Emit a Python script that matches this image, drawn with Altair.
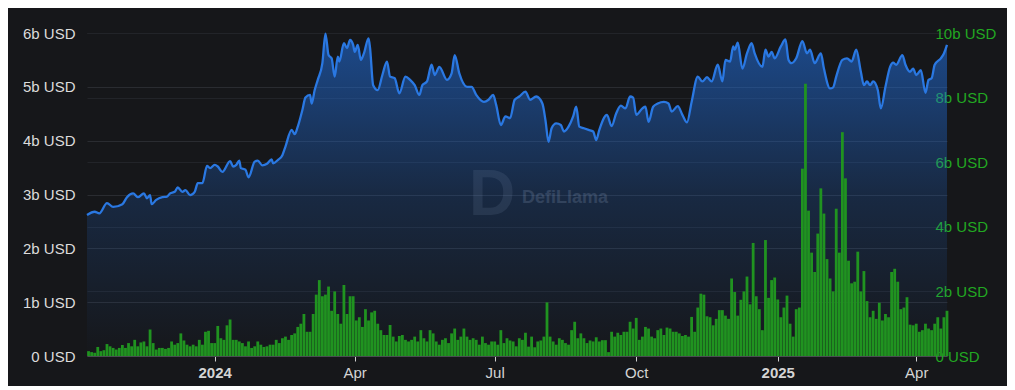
import altair as alt
import pandas as pd

START = "2023-10-10"

# TVL (left axis, billions USD): sample day offsets from START and values
tvl_day = [0, 5, 8, 13, 17, 23, 26, 30, 33, 37, 39, 41, 42, 45, 49, 52, 54, 57, 59, 62,
           64, 67, 70, 72, 75, 78, 80, 83, 85, 88, 93, 95, 97, 99, 100, 103, 105, 109, 111, 114,
           117, 120, 121, 124, 127, 129, 133, 135, 137, 140, 142, 145, 146, 148, 150, 153, 155, 157, 159, 161,
           163, 164, 167, 169, 171, 173, 174, 176, 178, 180, 183, 184, 186, 189, 192, 195, 197, 200, 203, 207,
           210, 213, 216, 218, 221, 224, 226, 229, 234, 237, 239, 242, 247, 250, 253, 258, 261, 264, 266, 269,
           272, 275, 278, 281, 285, 288, 292, 296, 298, 300, 302, 305, 308, 310, 313, 316, 318, 320, 323, 326,
           329, 331, 333, 338, 341, 344, 347, 350, 353, 355, 357, 361, 363, 365, 368, 371, 375, 378, 380, 384,
           387, 390, 393, 397, 400, 403, 406, 410, 413, 415, 418, 420, 421, 423, 426, 429, 432, 434, 439, 441,
           443, 445, 447, 451, 454, 456, 458, 461, 465, 468, 470, 473, 477, 479, 483, 485, 487, 491, 494, 497,
           500, 503, 505, 507, 509, 511, 514, 516, 519, 522, 524, 526, 530, 532, 535, 537, 539, 542, 545, 547,
           549, 551, 555, 557, 559]
tvl_bn = [2.62, 2.68, 2.65, 2.84, 2.77, 2.82, 2.95, 3.02, 2.95, 3.02, 2.93, 2.99, 2.82, 2.90, 2.95, 2.96, 3.02, 3.05, 3.13, 3.05,
          3.08, 2.99, 3.05, 3.21, 3.21, 3.53, 3.49, 3.55, 3.52, 3.42, 3.62, 3.52, 3.55, 3.63, 3.49, 3.46, 3.32, 3.61, 3.63, 3.54,
          3.57, 3.65, 3.58, 3.64, 3.73, 3.89, 4.20, 4.12, 4.26, 4.57, 4.80, 4.85, 4.69, 4.94, 5.13, 5.44, 5.99, 5.59, 5.53, 5.19,
          5.56, 5.47, 5.81, 5.72, 5.87, 5.78, 5.65, 5.78, 5.50, 5.62, 5.90, 5.72, 5.03, 4.94, 5.22, 5.47, 5.19, 5.16, 4.88, 5.19,
          5.13, 5.03, 4.85, 5.03, 5.10, 5.41, 5.22, 5.37, 5.13, 5.25, 5.59, 5.25, 5.00, 5.00, 4.85, 4.72, 4.76, 4.85, 4.66, 4.29,
          4.45, 4.42, 4.76, 4.82, 4.91, 4.76, 4.82, 4.69, 4.38, 3.98, 4.23, 4.32, 4.29, 4.17, 4.26, 4.45, 4.63, 4.26, 4.23, 4.20,
          4.17, 4.01, 4.20, 4.48, 4.27, 4.51, 4.65, 4.60, 4.82, 4.80, 4.48, 4.60, 4.63, 4.35, 4.63, 4.69, 4.72, 4.69, 4.54, 4.64,
          4.48, 4.34, 4.72, 5.19, 5.10, 5.18, 5.10, 5.41, 5.10, 5.50, 5.47, 5.75, 5.69, 5.82, 5.34, 5.62, 5.81, 5.62, 5.37, 5.69,
          5.56, 5.65, 5.53, 5.75, 5.88, 5.50, 5.44, 5.53, 5.85, 5.62, 5.69, 5.44, 5.62, 5.34, 4.97, 4.99, 5.19, 5.50, 5.53, 5.47,
          5.69, 5.28, 5.03, 5.10, 5.03, 5.10, 4.94, 4.60, 5.00, 5.37, 5.45, 5.41, 5.59, 5.41, 5.28, 5.34, 5.22, 5.31, 4.89, 5.13,
          5.16, 5.41, 5.53, 5.62, 5.78]

# Volume (right axis, billions USD), one value per 2-day bin starting at START
vol_bn = [0.15, 0.12, 0.10, 0.28, 0.15, 0.18, 0.37, 0.30, 0.25, 0.20,
          0.25, 0.34, 0.25, 0.40, 0.30, 0.50, 0.30, 0.42, 0.45, 0.30,
          0.82, 0.40, 0.20, 0.25, 0.25, 0.22, 0.25, 0.45, 0.35, 0.40,
          0.70, 0.48, 0.35, 0.30, 0.35, 0.30, 0.50, 0.35, 0.75, 0.78,
          0.40, 0.40, 0.93, 0.55, 0.50, 0.95, 1.13, 0.50, 0.50, 0.45,
          0.40, 0.30, 0.45, 0.25, 0.30, 0.45, 0.35, 0.28, 0.30, 0.35,
          0.35, 0.50, 0.40, 0.55, 0.60, 0.50, 0.65, 0.70, 0.90, 1.00,
          1.30, 0.75, 0.75, 1.30, 1.90, 2.35, 1.85, 1.90, 2.15, 1.40,
          2.00, 1.30, 1.00, 2.20, 1.30, 1.85, 1.85, 1.10, 1.20, 0.90,
          1.45, 1.10, 1.35, 1.40, 1.00, 0.80, 0.65, 0.65, 0.96, 0.60,
          0.45, 0.62, 0.65, 0.50, 0.45, 0.50, 0.60, 0.45, 0.80, 0.55,
          0.45, 0.80, 0.70, 0.45, 0.35, 0.50, 0.55, 0.40, 0.70, 0.85,
          0.50, 0.60, 0.85, 0.60, 0.50, 0.55, 0.50, 0.35, 0.60, 0.40,
          0.35, 0.45, 0.45, 0.35, 0.80, 0.40, 0.55, 0.48, 0.45, 0.30,
          0.55, 0.50, 0.72, 0.29, 0.60, 0.27, 0.45, 0.48, 0.60, 1.66,
          0.60, 0.45, 0.35, 0.55, 0.50, 0.40, 0.35, 0.80, 1.06, 0.55,
          0.70, 0.55, 0.40, 0.48, 0.45, 0.58, 0.45, 0.49, 0.49, 0.12,
          0.75, 0.60, 0.72, 0.65, 0.75, 0.75, 1.06, 0.85, 1.18, 0.50,
          0.60, 0.90, 0.85, 0.60, 0.55, 0.80, 0.85, 0.65, 0.88, 0.85,
          0.75, 0.75, 0.70, 0.62, 0.65, 0.60, 1.21, 0.75, 1.50, 1.93,
          1.90, 1.23, 1.20, 0.95, 1.15, 1.42, 1.42, 1.25, 1.15, 2.40,
          1.98, 1.25, 1.74, 2.00, 2.46, 1.60, 3.50, 1.85, 1.45, 0.80,
          3.59, 1.80, 2.35, 2.43, 1.75, 1.20, 1.50, 1.87, 1.00, 0.60,
          1.45, 1.50, 5.80, 8.43, 4.50, 3.20, 2.60, 3.79, 5.19, 4.41,
          3.00, 2.40, 2.00, 4.56, 3.20, 6.93, 5.50, 2.95, 2.25, 2.30,
          3.23, 2.00, 2.63, 1.70, 1.20, 1.40, 1.15, 1.65, 1.10, 1.30,
          1.20, 2.60, 2.70, 2.30, 1.45, 1.50, 1.82, 0.97, 0.95, 1.00,
          0.75, 0.80, 1.00, 0.85, 0.80, 1.00, 1.20, 0.85, 1.20, 1.40]

left_ticks = [0, 1, 2, 3, 4, 5, 6]
right_ticks = [0, 2, 4, 6, 8, 10]

start = pd.Timestamp(START)
tvl_df = pd.DataFrame({
    "date": [(start + pd.Timedelta(days=d)).strftime("%Y-%m-%d") for d in tvl_day],
    "tvl": tvl_bn,
})
vol_df = pd.DataFrame({
    "date": [(start + pd.Timedelta(days=2 * k + 1)).strftime("%Y-%m-%d") for k in range(len(vol_bn))],
    "vol": vol_bn,
})

FONT = "Liberation Sans"
BG = "#16171a"

x_scale = alt.Scale(
    type="utc",
    padding=0,
    domain=[alt.DateTime(year=2023, month=10, date=10, utc=True),
            alt.DateTime(year=2025, month=4, date=21, utc=True)],
)
x_ticks = [alt.DateTime(year=y, month=m, date=1, utc=True)
           for (y, m) in [(2024, 1), (2024, 4), (2024, 7), (2024, 10), (2025, 1), (2025, 4)]]

x_axis = alt.Axis(
    title=None, values=x_ticks,
    labelExpr="utcFormat(datum.value, '%m') == '01' ? utcFormat(datum.value, '%Y') : utcFormat(datum.value, '%b')",
    labelFontWeight={"condition": {"test": "utcFormat(datum.value, '%m') == '01'", "value": "bold"}, "value": "normal"},
    labelColor="#d4d4d4", labelFontSize=15, labelFont=FONT, labelPadding=4,
    labelOverlap=False, labelFlush=False,
    tickColor="#cfcfcf", tickSize=5, domainColor="#4a4c52", grid=False,
)

left_axis = alt.Axis(
    title=None, values=left_ticks, orient="left",
    labelExpr="datum.value == 0 ? '0 USD' : datum.value + 'b USD'",
    labelColor="#dcdcdc", labelFontSize=15, labelFont=FONT, labelPadding=12,
    ticks=False, domain=False, grid=True, gridColor="#2a2c31", gridWidth=1,
)
right_axis = alt.Axis(
    title=None, values=right_ticks, orient="right",
    labelExpr="datum.value == 0 ? '0 USD' : datum.value + 'b USD'",
    labelColor="#22a822", labelFontSize=15, labelFont=FONT, labelPadding=-12,
    labelAlign="left",
    ticks=False, domain=False, grid=True, gridColor="#222429", gridWidth=1,
)

area = alt.Chart(tvl_df).mark_area(
    interpolate="monotone",
    color=alt.Gradient(
        gradient="linear",
        stops=[alt.GradientStop(color="rgba(33,114,229,0.56)", offset=0),
               alt.GradientStop(color="rgba(33,114,229,0.20)", offset=0.5),
               alt.GradientStop(color="rgba(33,114,229,0.0)", offset=1)],
        x1=1, x2=1, y1=0, y2=1,
    ),
).encode(
    x=alt.X("date:T", scale=x_scale, axis=x_axis),
    y=alt.Y("tvl:Q", scale=alt.Scale(domain=[0, 6], nice=False), axis=left_axis),
)

bars = alt.Chart(vol_df).mark_bar(color="#209320", size=2.8).encode(
    x=alt.X("date:T", scale=x_scale),
    y=alt.Y("vol:Q", scale=alt.Scale(domain=[0, 10], nice=False), axis=right_axis),
)

line = alt.Chart(tvl_df).mark_line(
    interpolate="monotone", color="#2a78e2", strokeWidth=2.3
).encode(
    x=alt.X("date:T", scale=x_scale),
    y=alt.Y("tvl:Q", scale=alt.Scale(domain=[0, 6], nice=False), axis=None),
)

wm_logo = alt.Chart(pd.DataFrame({"t": ["D"]})).mark_text(
    font=FONT, fontSize=64, fontWeight="bold", color="#8ea2c2", opacity=0.13,
    align="center", baseline="middle",
).encode(x=alt.value(405), y=alt.value(163), text="t:N")

wm_text = alt.Chart(pd.DataFrame({"t": ["DefiLlama"]})).mark_text(
    font=FONT, fontSize=18, fontWeight="bold", color="#8ea2c2", opacity=0.22,
    align="left", baseline="middle",
).encode(x=alt.value(435), y=alt.value(165), text="t:N")

chart = alt.layer(area, bars, line, wm_logo, wm_text).resolve_scale(
    y="independent"
).properties(
    width=860, height=323,
    autosize=alt.AutoSizeParams(type="none"),
    padding={"left": 79, "top": 25, "right": 60, "bottom": 30},
).configure(
    background=BG, font=FONT,
).configure_view(stroke=None)

chart.save("out.html", embed_options={"renderer": "svg", "actions": False})
